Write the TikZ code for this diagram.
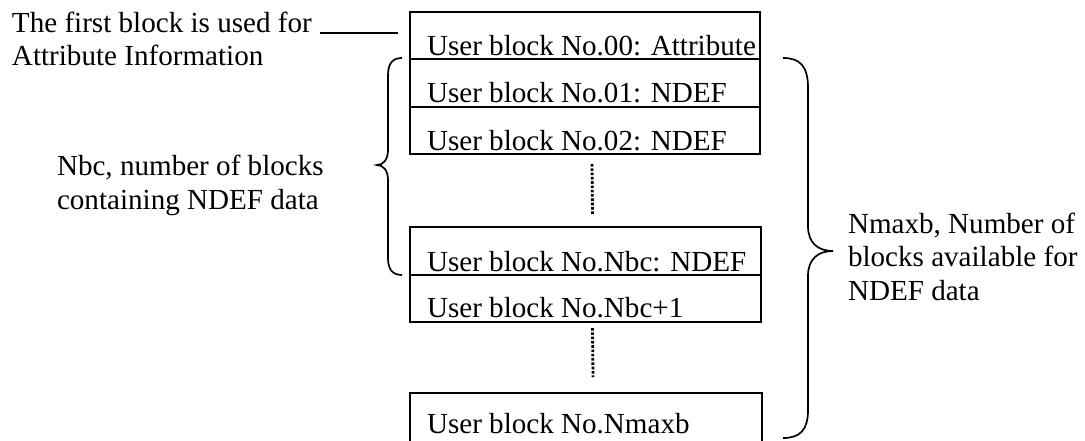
\documentclass[tikz,border=0pt]{standalone}
\usepackage{fontspec}
\setmainfont{Liberation Serif}
\usetikzlibrary{calc}
\begin{document}
\begin{tikzpicture}[x=1pt,y=-1pt,
  every node/.style={font=\fontsize{29.1}{33.5}\selectfont, inner sep=0pt, outer sep=0pt},
  cell/.style={draw, line width=1.8pt, minimum width=350pt, anchor=north west},
  celltext/.style={anchor=base west},
  label/.style={anchor=base west, align=left},
  dotline/.style={line width=2.8pt, dash pattern=on 2.6pt off 1.7pt},
  brace/.style={line width=1.7pt},
  ptr/.style={line width=1.7pt}]
\useasboundingbox[fill=white] (0,0) rectangle (1085,440);
% cells
\node[cell, minimum height=47pt] (c0) at (410,12) {};
\node[cell, minimum height=48pt] (c1) at (410,59) {};
\node[cell, minimum height=47pt] (c2) at (410,107) {};
\node[cell, minimum height=48pt, minimum width=351pt] (c3) at (410,227) {};
\node[cell, minimum height=47pt, minimum width=351pt] (c4) at (410,275) {};
\node[anchor=north west, minimum width=352pt, minimum height=60pt] (c5) at (410,393) {};
\draw[line width=1.8pt] (c5.south west) -- (c5.north west) -- (c5.north east) -- (c5.south east);
% cell texts
\node[celltext] (t0) at (427,55) {User block No.00: Attribute};
\node[celltext] (t1) at (427,102) {User block No.01: NDEF};
\node[celltext] (t2) at (427,150) {User block No.02: NDEF};
\node[celltext] (t3) at (427,271) {User block No.Nbc: NDEF};
\node[celltext] (t4) at (427,317) {User block No.Nbc+1};
\node[celltext] (t5) at (427,433) {User block No.Nmaxb};
% dotted continuation lines
\draw[dotline] ($(c2.south)+(7,10)$) -- ($(c3.north)+(7,-13)$);
\draw[dotline] ($(c4.south)+(7,6)$) -- ($(c5.north)+(7,-16)$);
% labels (base anchor = baseline of last line)
\node[label] (first) at (12,65.5) {The first block is used for\\Attribute Information};
\coordinate (p0) at (320,33);
\draw[ptr] (p0) -- ($(c0.west |- p0)+(-12,0)$);
\node[label] (nbc) at (57,209) {Nbc, number of blocks\\containing NDEF data};
\node[label] (nmaxb) at (848,300) {Nmaxb, Number of\\blocks available for\\NDEF data};
% braces
\draw[brace] (402,58) .. controls (393,58) and (388,63) .. (388,75) -- (388,150)
  .. controls (388,160) and (383,165) .. (377,165)
  .. controls (383,165) and (388,170) .. (388,180) -- (388,258)
  .. controls (388,270) and (393,275) .. (402,275);
\draw[brace] (783,58) .. controls (800,58) and (808,66) .. (808,88) -- (808,226)
  .. controls (808,243) and (818,251) .. (833,251)
  .. controls (818,251) and (808,259) .. (808,276) -- (808,410)
  .. controls (808,430) and (800,438) .. (783,438);
\end{tikzpicture}
\end{document}
